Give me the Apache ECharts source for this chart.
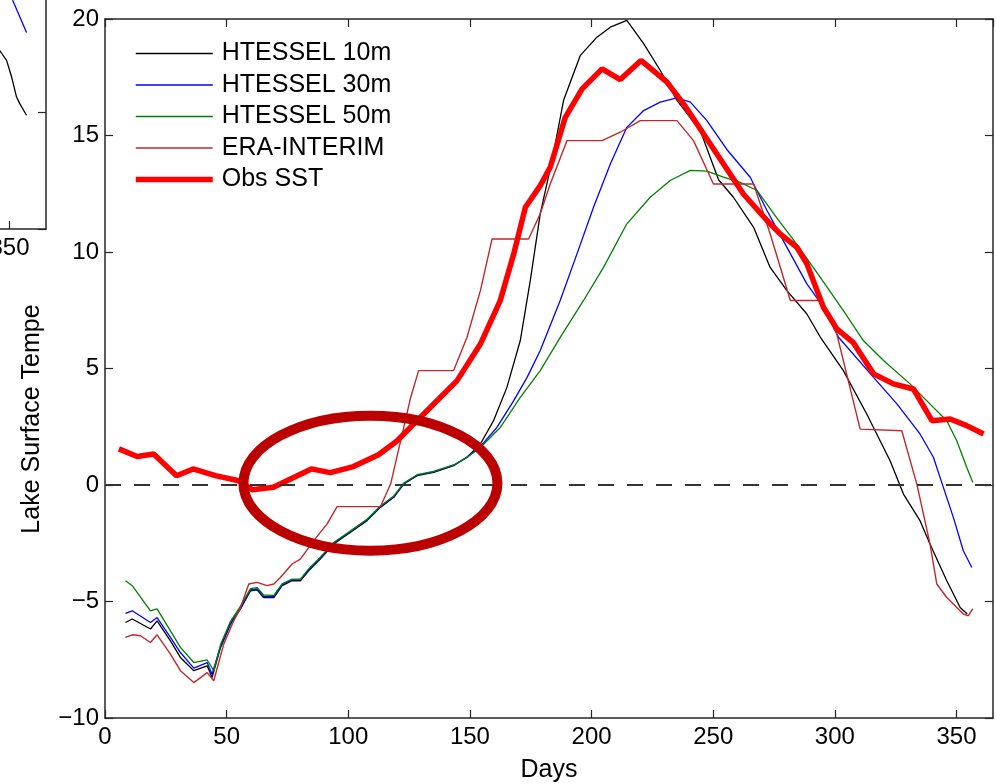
<!DOCTYPE html>
<html>
<head>
<meta charset="utf-8">
<script src="https://cdn.jsdelivr.net/npm/echarts@6/dist/echarts.min.js"></script>
<style>
  html, body { margin: 0; padding: 0; background: #fff; }
  #chart { width: 996px; height: 784px; }
</style>
</head>
<body>
<div id="chart"></div>
<script>
// 图例名称
var seriesNames = ['HTESSEL 10m', 'HTESSEL 30m', 'HTESSEL 50m', 'ERA-INTERIM', 'Obs SST'];

// x 轴刻度
var xTicks = [0, 50, 100, 150, 200, 250, 300, 350];

// HTESSEL 10m
var h10Days = [8.4, 11.2, 18.7, 21.4, 26.9, 31, 36.5, 42, 44, 47.5, 51.6, 55.7, 59.8, 62.5, 65.2, 69.4, 72.8, 76.9, 80.3, 83.7, 88.5, 94, 100.8, 107.7, 113.2, 118.7, 122.8, 128.3, 135.1, 143.3, 148.8, 154.3, 159.7, 165.2, 170.7, 174.8, 178.9, 183.7, 188.5, 195.4, 202.2, 207.7, 214.5, 221.4, 228.2, 235.1, 244.7, 252.2, 258.3, 266.6, 273.4, 280.3, 288.5, 294, 303.5, 313.1, 322.7, 328.2, 335, 339.1, 346, 351.5, 354.4];
var h10Vals = [-5.90, -5.75, -6.18, -5.83, -6.69, -7.40, -7.97, -7.76, -8.26, -6.97, -5.97, -5.32, -4.54, -4.50, -4.83, -4.83, -4.32, -4.11, -4.11, -3.68, -3.18, -2.53, -2.04, -1.53, -0.96, -0.53, 0.04, 0.40, 0.54, 0.83, 1.19, 1.76, 2.76, 4.19, 6.20, 8.77, 11.64, 13.9, 16.51, 18.44, 19.22, 19.65, 19.94, 18.94, 17.80, 16.51, 15.20, 13.10, 12.35, 11.06, 9.34, 8.34, 7.34, 6.35, 4.91, 3.05, 1.04, -0.39, -1.53, -2.53, -4.11, -5.26, -5.54];

// HTESSEL 30m
var h30Days = [8.4, 11.2, 18.7, 21.4, 26.9, 31, 36.5, 42, 44, 47.5, 51.6, 55.7, 59.8, 62.5, 65.2, 69.4, 72.8, 76.9, 80.3, 83.7, 88.5, 94, 100.8, 107.7, 113.2, 118.7, 122.8, 128.3, 135.1, 143.3, 148.8, 154.3, 161.1, 168, 173.5, 178.9, 187.1, 194, 200.8, 207.7, 214.5, 221.4, 228.2, 235.1, 240.6, 247.4, 255.6, 265.2, 272.1, 280.3, 288.5, 295.3, 301.5, 315.9, 325.5, 335, 340.5, 344.6, 348.7, 352.8, 356.3];
var h30Vals = [-5.51, -5.40, -5.90, -5.69, -6.54, -7.19, -7.86, -7.62, -8.12, -6.92, -5.92, -5.28, -4.50, -4.46, -4.79, -4.79, -4.28, -4.07, -4.07, -3.64, -3.14, -2.50, -2.00, -1.49, -0.93, -0.50, 0.06, 0.42, 0.56, 0.85, 1.20, 1.66, 2.47, 3.62, 4.62, 5.77, 7.92, 9.92, 11.92, 13.78, 15.35, 16.07, 16.43, 16.62, 16.43, 15.64, 14.40, 13.21, 11.78, 10.20, 8.63, 7.63, 6.34, 4.62, 3.48, 2.19, 1.19, -0.10, -1.39, -2.82, -3.54];

// HTESSEL 50m
var h50Days = [8.4, 11.2, 18.7, 21.4, 26.9, 31, 36.5, 42, 44.7, 47.5, 51.6, 55.7, 59.8, 62.5, 65.2, 69.4, 72.8, 76.9, 80.3, 83.7, 88.5, 94, 100.8, 107.7, 113.2, 118.7, 122.8, 128.3, 135.1, 143.3, 148.8, 154.3, 162.5, 170.7, 178.9, 187.5, 196.7, 204.9, 214.5, 224.1, 232.3, 240.6, 247.4, 254.2, 261.1, 268, 276.2, 284.4, 294, 303.5, 311.7, 320, 330.9, 340.5, 346, 350.1, 354.2, 356.7];
var h50Vals = [-4.11, -4.32, -5.40, -5.32, -6.26, -6.97, -7.62, -7.51, -7.97, -6.85, -5.85, -5.20, -4.45, -4.40, -4.72, -4.74, -4.24, -4.04, -4.04, -3.60, -3.10, -2.47, -1.98, -1.47, -0.90, -0.47, 0.08, 0.44, 0.58, 0.86, 1.18, 1.61, 2.47, 3.76, 4.91, 6.40, 7.92, 9.34, 11.21, 12.35, 13.07, 13.50, 13.47, 13.21, 12.99, 12.64, 11.45, 10.33, 8.91, 7.48, 6.20, 5.34, 4.34, 3.33, 2.76, 1.90, 0.76, 0.11];

// ERA-INTERIM
var eraDays = [8.4, 11.2, 14.6, 18.7, 21.4, 26.9, 31, 36.5, 42, 44.7, 48.8, 52.9, 55.7, 59.1, 62.5, 66.6, 69.4, 72.1, 76.9, 80.3, 85.8, 91.3, 95.4, 113.2, 117.4, 125.5, 128.9, 143.3, 148.8, 154.3, 159.1, 174.1, 178.9, 183, 189.9, 204.3, 211.8, 220, 235.1, 241.9, 250.1, 266.6, 273.4, 281.7, 294, 300.8, 310.4, 327.5, 333.7, 339.1, 341.9, 346, 352.8, 354.9, 356.7];
var eraVals = [-6.54, -6.43, -6.47, -6.76, -6.43, -7.26, -7.97, -8.48, -8.05, -8.40, -6.83, -5.83, -5.26, -4.25, -4.18, -4.32, -4.25, -3.97, -3.39, -3.18, -2.39, -1.67, -0.93, -0.93, 0.04, 3.70, 4.91, 4.91, 6.34, 8.34, 10.56, 10.56, 11.64, 12.92, 14.78, 14.78, 15.14, 15.64, 15.64, 14.78, 12.92, 12.92, 10.78, 7.92, 7.92, 6.48, 2.40, 2.33, 0.04, -2.53, -4.25, -4.83, -5.54, -5.61, -5.32];

// Obs SST
var obsDays = [5.7, 13.2, 20, 29.4, 36.2, 45.4, 55, 60.5, 69.2, 84.8, 92.6, 102.1, 112.4, 120.1, 131, 144.7, 154.3, 162.4, 168, 172.8, 178.9, 183, 189.2, 196.1, 204.3, 211.8, 220.3, 231, 237.8, 251.5, 262.4, 272.1, 277.5, 284.4, 288.5, 295.3, 300.8, 307.6, 315.9, 324.1, 332.3, 339.9, 347.4, 354.2, 361.1];
var obsVals = [1.55, 1.22, 1.33, 0.40, 0.69, 0.40, 0.18, -0.20, -0.10, 0.69, 0.53, 0.79, 1.30, 1.90, 3.05, 4.48, 6.05, 7.90, 9.92, 11.92, 12.85, 13.64, 15.78, 17.0, 17.86, 17.40, 18.22, 17.29, 16.36, 14.21, 12.49, 11.35, 10.78, 10.20, 9.49, 7.63, 6.70, 6.11, 4.77, 4.34, 4.12, 2.76, 2.83, 2.55, 2.19];

// 左侧被裁掉的子图 (只露出一角)
var leftH10Days = [344, 345.9, 348.8, 350.9, 352.9, 354.1, 357];
var leftH10Vals = [-2.1, -2.32, -2.75, -3.48, -4.33, -4.59, -5.11];
var leftH30Days = [349, 351.3, 357];
var leftH30Vals = [0.5, -0.17, -1.55];

(function() {
  var myChart = echarts.init(document.getElementById('chart'), null, { renderer: 'canvas' });

  var font = '"Liberation Sans", Arial, Helvetica, sans-serif';
  var axisCol = '#262626';
  var widths = [1.3, 1.3, 1.3, 1.4, 5.5];
  var colors = ['#000000', '#0000ff', '#008000', '#c0282d', '#ff0000'];

  function pairs(days, vals) {
    return days.map(function(d, i) { return [d, vals[i]]; });
  }

  function line(name, days, vals, color, width, xi, yi) {
    return {
      name: name,
      type: 'line',
      xAxisIndex: xi || 0,
      yAxisIndex: yi || 0,
      data: pairs(days, vals),
      symbol: 'none',
      lineStyle: { color: color, width: width },
      itemStyle: { color: color },
      emphasis: { disabled: true },
      animation: false
    };
  }

  // 坐标轴 (MATLAB 风格, 刻度朝内)
  function xAx(grid, pos, labels) {
    return {
      type: 'value', gridIndex: grid, position: pos,
      min: 0, max: 365, interval: 50,
      axisLine: { show: true, onZero: false, lineStyle: { color: axisCol, width: 1.5 } },
      axisTick: { show: true, inside: true, length: 8, lineStyle: { color: axisCol, width: 1.2 } },
      axisLabel: { show: labels, color: '#000', fontSize: 24, fontFamily: font, margin: 7, showMaxLabel: false },
      splitLine: { show: false }
    };
  }
  function yAx(grid, pos, labels, min, max) {
    return {
      type: 'value', gridIndex: grid, position: pos,
      min: min, max: max, interval: 5,
      axisLine: { show: true, onZero: false, lineStyle: { color: axisCol, width: 1.5 } },
      axisTick: { show: true, inside: true, length: 8, lineStyle: { color: axisCol, width: 1.2 } },
      axisLabel: {
        show: labels, color: '#000', fontSize: 24, fontFamily: font, margin: 6,
        formatter: function(v) { return String(v).replace('-', '\u2212'); }
      },
      splitLine: { show: false }
    };
  }

  var xBottom = xAx(0, 'bottom', true);
  xBottom.name = 'Days';
  xBottom.nameLocation = 'middle';
  xBottom.nameGap = 40;
  xBottom.nameTextStyle = { color: '#000', fontSize: 25, fontFamily: font };

  var h10 = line(seriesNames[0], h10Days, h10Vals, colors[0], widths[0]);
  h10.markLine = {
    silent: true,
    symbol: 'none',
    label: { show: false },
    lineStyle: { color: '#333', width: 1.8, type: [16, 13] },
    data: [{ yAxis: 0 }],
    animation: false
  };

  // 图例: 每项线宽与曲线一致
  var legendData = seriesNames.map(function(n, i) {
    return { name: n, lineStyle: { width: widths[i], color: colors[i] } };
  });

  var option = {
    backgroundColor: '#fff',
    textStyle: { fontFamily: font },
    grid: [
      { left: 105, right: 3, top: 19, bottom: 66, outerBoundsMode: 'none', containLabel: false },
      { left: -842, width: 888, top: -120, height: 349, outerBoundsMode: 'none', containLabel: false }
    ],
    legend: {
      data: legendData,
      orient: 'vertical',
      left: 133,
      top: 41,
      padding: 0,
      itemWidth: 77,
      itemHeight: 14,
      itemGap: 6.5,
      selectedMode: false,
      itemStyle: { opacity: 0 },
      textStyle: { color: '#000', fontSize: 25, fontFamily: font, lineHeight: 25, padding: [0, 0, 0, 4] }
    },
    xAxis: [xBottom, xAx(0, 'top', false), xAx(1, 'bottom', true)],
    yAxis: [yAx(0, 'left', true, -10, 20), yAx(0, 'right', false, -10, 20), yAx(1, 'right', false, -10, 5)],
    series: [
      h10,
      line(seriesNames[1], h30Days, h30Vals, colors[1], widths[1]),
      line(seriesNames[2], h50Days, h50Vals, colors[2], widths[2]),
      line(seriesNames[3], eraDays, eraVals, colors[3], widths[3]),
      line(seriesNames[4], obsDays, obsVals, colors[4], widths[4]),
      line('left 10m', leftH10Days, leftH10Vals, '#000000', 1.3, 2, 2),
      line('left 30m', leftH30Days, leftH30Vals, '#0000ff', 1.3, 2, 2)
    ]
  };

  myChart.setOption(option);

  // 标注椭圆 + 纵轴标题
  var c = myChart.convertToPixel({ xAxisIndex: 0, yAxisIndex: 0 }, [109.1, 0.08]);
  myChart.setOption({
    graphic: [
      {
        type: 'ellipse',
        shape: { cx: c[0], cy: c[1], rx: 127, ry: 67.5 },
        style: { fill: 'none', stroke: '#bc0000', lineWidth: 10 },
        z: 100,
        silent: true
      },
      {
        type: 'text',
        x: 32,
        y: 419,
        rotation: Math.PI / 2,
        style: {
          text: 'Lake Surface Tempe',
          fill: '#000',
          font: '25px ' + font,
          textAlign: 'center',
          textVerticalAlign: 'middle'
        },
        silent: true
      }
    ]
  });
})();
</script>
</body>
</html>
